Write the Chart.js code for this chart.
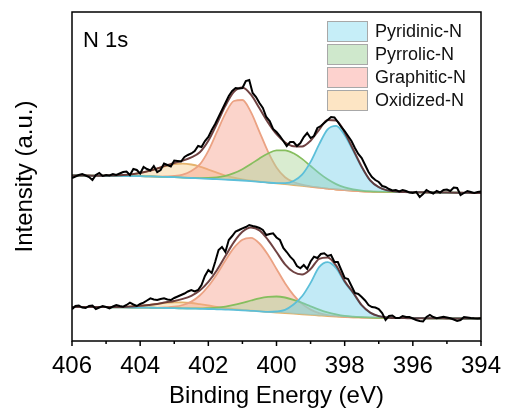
<!DOCTYPE html>
<html>
<head>
<meta charset="utf-8">
<script src="https://cdn.jsdelivr.net/npm/chart.js@4.4.1/dist/chart.umd.min.js"></script>
<style>
  html, body { margin: 0; padding: 0; background: #fff; }
</style>
</head>
<body>
<canvas id="grafico" width="507" height="414"></canvas>
<script>
// energía de enlace (eV) de la malla del ajuste, paso 0.25
const fitBE = [406,405.75,405.5,405.25,405,404.75,404.5,404.25,404,403.75,403.5,403.25,403,402.75,402.5,402.25,402,
  401.75,401.5,401.25,401,400.75,400.5,400.25,400,399.75,399.5,399.25,399,398.75,398.5,398.25,398,
  397.75,397.5,397.25,397,396.75,396.5,396.25,396,395.75,395.5,395.25,395,394.75,394.5,394.25,394];

// fondo Shirley (u.a.)
const fondoSup = [165.5,165.5,165.4,165.3,165.2,165.1,165.0,164.9,164.8,164.6,164.4,164.1,163.8,163.4,163.0,162.6,162.2,
  161.8,161.4,161.0,160.5,159.9,159.2,158.4,157.6,156.8,156.0,155.1,154.2,153.3,152.4,151.5,150.8,
  150.2,149.7,149.4,149.2,149.1,149.0,148.9,148.8,148.7,148.6,148.5,148.4,148.3,148.2,148.1,148.0];
const fondoInf = [34.0,34.0,33.9,33.9,33.8,33.7,33.6,33.5,33.4,33.3,33.2,33.0,32.8,32.6,32.4,32.2,32.0,
  31.7,31.4,31.1,30.7,30.2,29.7,29.1,28.5,27.9,27.3,26.7,26.1,25.5,24.9,24.4,24.0,
  23.7,23.5,23.3,23.2,23.1,23.0,22.9,22.8,22.8,22.7,22.7,22.6,22.6,22.5,22.5,22.4];

// componentes (altura sobre el fondo) - espectro superior
const piridinicoSup = [0,0,0,0,0,0,0,0,0,0,0,0,0,0,0,0,0,0,0,0,0,0,0,0,0.3,1.1,4.0,11.2,24.9,43.3,59.3,63.7,55,
  40,24,11,4.5,1.5,0.5,0,0,0,0,0,0,0,0,0,0];
const pirrolicoSup = [0,0,0,0,0,0,0,0,0,0,0,0,0,0,0.1,0.3,0.8,1.8,3.7,6.8,11.3,17.0,23.4,29.1,33.0,33.9,31.7,27.0,20.8,14.6,9.3,5.4,2.8,
  1.3,0.6,0.2,0.1,0,0,0,0,0,0,0,0,0,0,0,0];
const grafiticoSup = [0,0,0,0,0,0,0,0,0,0,0,0.5,1.2,3,7,14,28,47,66,79,80.5,69,50,31,16,7,3,1.2,0.4,0,0,0,0,
  0,0,0,0,0,0,0,0,0,0,0,0,0,0,0,0];
const oxidadoSup = [0,0,0,0,0.2,0.4,0.9,1.8,3.3,5.4,8.1,10.8,13.0,14.0,13.5,11.8,9.2,6.5,4.1,2.3,1.2,0.5,0.2,0.1,0,0,0,0,0,0,0,0,0,
  0,0,0,0,0,0,0,0,0,0,0,0,0,0,0,0];

// componentes - espectro inferior
const piridinicoInf = [0,0,0,0,0,0,0,0,0,0,0,0,0,0,0,0,0,0,0,0,0,0,0,0,1.0,3.3,9.2,18,32,48.4,54,48.4,34.7,
  24,12,5,1.7,0.5,0,0,0,0,0,0,0,0,0,0,0];
const pirrolicoInf = [0,0,0,0,0,0,0,0,0,0,0,0,0,0.1,0.2,0.4,0.9,1.7,3.0,5.0,7.5,10.3,13.0,15.0,16.0,15.6,13.9,11.4,8.6,5.9,3.7,2.2,1.1,
  0.6,0.3,0.1,0,0,0,0,0,0,0,0,0,0,0,0,0];
const grafiticoInf = [0,0,0,0,0,0,0,0,0,0,0,0.6,1.5,3.4,7.0,13.3,22.7,35.1,49.1,62.0,70.6,72.9,67.8,57.1,43.5,29.9,18.6,10.4,5.3,2.4,1.0,0.4,0.1,
  0,0,0,0,0,0,0,0,0,0,0,0,0,0,0,0];
const oxidadoInf = [0,0,0,0,0.1,0.3,0.5,1.0,1.8,2.8,3.9,5.1,5.8,6.0,5.6,4.6,3.5,2.3,1.4,0.8,0.4,0.2,0.1,0,0,0,0,0,0,0,0,0,0,
  0,0,0,0,0,0,0,0,0,0,0,0,0,0,0,0];

// datos experimentales, paso 0.1 eV
const rawBE = [406.0,405.9,405.8,405.7,405.6,405.5,405.4,405.3,405.2,405.1,
  405.0,404.9,404.8,404.7,404.6,404.5,404.4,404.3,404.2,404.1,
  404.0,403.9,403.8,403.7,403.6,403.5,403.4,403.3,403.2,403.1,
  403.0,402.9,402.8,402.7,402.6,402.5,402.4,402.3,402.2,402.1,
  402.0,401.9,401.8,401.7,401.6,401.5,401.4,401.3,401.2,401.1,
  401.0,400.9,400.8,400.7,400.6,400.5,400.4,400.3,400.2,400.1,
  400.0,399.9,399.8,399.7,399.6,399.5,399.4,399.3,399.2,399.1,
  399.0,398.9,398.8,398.7,398.6,398.5,398.4,398.3,398.2,398.1,
  398.0,397.9,397.8,397.7,397.6,397.5,397.4,397.3,397.2,397.1,
  397.0,396.9,396.8,396.7,396.6,396.5,396.4,396.3,396.2,396.1,
  396.0,395.9,395.8,395.7,395.6,395.5,395.4,395.3,395.2,395.1,
  395.0,394.9,394.8,394.7,394.6,394.5,394.4,394.3,394.2,394.1,
  394.0];
const expSup = [163,164.5,166,167,165.5,164,161,166,168,165,
  166,165.5,167,166,167.5,169,169.5,166,172,171,
  167.5,174,172,170.5,175,169,171,177.5,176,174.5,
  180.5,180,179.5,184,186,187.5,190,195,194,200,
  204,211,217,224,231,238,245,250,253,252.5,
  253,260,261,248,244,238,233,224,220,212,
  209,205,200,195,199,199,195,198,204,208,
  203,205,213,215,218,221,224,223.5,219,214,
  210,205,200,193,187,183,176,169,164,161,
  159,155,154,152,150.5,151,149.5,151,150,148.5,
  148,149,144,147,151,149,147.5,150,148.5,151,
  151.5,150,153.5,153,146,148,150,149,148,149,
  149.5];
const expInf = [31.7,35,35.5,33.5,33,35,35.5,32,33.5,35,
  34,32.7,34.5,36,35,34.3,36,38.3,36.5,35,
  37,38.3,40.5,42.7,41.5,41,42,42.7,41.5,41,
  43,44.5,46,47.5,49.5,51,49.5,51,56,65,
  71,68,79,91,94,89,101,105,109.5,111,
  112.7,114,116,115,114.3,113,111,106,107,107.7,
  103.5,101,93,89,84.3,81,75,72.7,76,72,
  79.5,84.3,83,87,87.7,85,86,79,79,71,
  63,62,55,48,47,44,40.5,36,34,33.5,
  32,28,21,25,25.5,23,23,25,24,24,
  22.5,21,20,19.5,24,26,24,22.7,23.5,24.3,
  23.5,22.7,21.5,20,21,24,23.5,23,22.7,22.5,
  22.7];

const etiquetas = ['Pyridinic-N', 'Pyrrolic-N', 'Graphitic-N', 'Oxidized-N'];
const colorLinea = ['#5cbfd9', '#86be5e', '#eba283', '#e5b36c'];
const colorRelleno = ['rgba(120,208,236,0.45)', 'rgba(170,212,150,0.45)', 'rgba(246,160,140,0.45)', 'rgba(246,204,140,0.45)'];
const colorLeyenda = ['#c6eef8', '#cfe8cc', '#fdd2ce', '#fde5c4'];

const puntos = (xs, ys) => xs.map((x, i) => ({ x, y: ys[i] }));
const sobreFondo = (fondo, h) => fitBE.map((x, i) => ({ x, y: fondo[i] + h[i] }));
const envolvente = (fondo, comps) => fitBE.map((x, i) => ({ x, y: fondo[i] + comps.reduce((s, c) => s + c[i], 0) }));

const compsSup = [piridinicoSup, pirrolicoSup, grafiticoSup, oxidadoSup];
const compsInf = [piridinicoInf, pirrolicoInf, grafiticoInf, oxidadoInf];

const datasets = [
  { data: puntos(rawBE, expSup), borderColor: '#000', borderWidth: 2, tension: 0 },
  { data: envolvente(fondoSup, compsSup), borderColor: 'rgba(95,45,45,0.9)', borderWidth: 2, cubicInterpolationMode: 'monotone' },
  { data: puntos(rawBE, expInf), borderColor: '#000', borderWidth: 2, tension: 0 },
  { data: envolvente(fondoInf, compsInf), borderColor: 'rgba(95,45,45,0.9)', borderWidth: 2, cubicInterpolationMode: 'monotone' }
];
// componentes: índice 12 = fondo superior, 13 = fondo inferior
compsSup.forEach((c, k) => {
  datasets.push({ data: sobreFondo(fondoSup, c), borderColor: colorLinea[k], backgroundColor: colorRelleno[k],
    borderWidth: 1.8, fill: 12, cubicInterpolationMode: 'monotone' });
  datasets.push({ data: sobreFondo(fondoInf, compsInf[k]), borderColor: colorLinea[k], backgroundColor: colorRelleno[k],
    borderWidth: 1.8, fill: 13, cubicInterpolationMode: 'monotone' });
});
datasets.push({ data: puntos(fitBE, fondoSup), borderColor: 'rgba(0,0,0,0)', borderWidth: 0, cubicInterpolationMode: 'monotone' });
datasets.push({ data: puntos(fitBE, fondoInf), borderColor: 'rgba(0,0,0,0)', borderWidth: 0, cubicInterpolationMode: 'monotone' });

const fuente = '"Liberation Sans", Arial, sans-serif';

// marco, marcas menores, rótulo y leyenda
const decoracion = {
  id: 'decoracion',
  afterDraw(chart) {
    const { ctx, chartArea: a, scales: { x } } = chart;
    ctx.save();
    ctx.strokeStyle = '#000';
    ctx.lineWidth = 1.5;
    ctx.strokeRect(a.left, a.top, a.right - a.left, a.bottom - a.top);
    for (let v = x.min; v <= x.max; v++) {
      const px = x.getPixelForValue(v);
      ctx.beginPath();
      ctx.moveTo(px, a.bottom);
      ctx.lineTo(px, a.bottom + (v % 2 === 0 ? 5 : 3));
      ctx.stroke();
    }
    ctx.fillStyle = '#000';
    ctx.font = '22px ' + fuente;
    ctx.textBaseline = 'alphabetic';
    ctx.fillText('N 1s', 83, 47);
    ctx.font = '18px ' + fuente;
    ctx.textBaseline = 'middle';
    etiquetas.forEach((t, i) => {
      const y = 21 + i * 23;
      ctx.fillStyle = colorLeyenda[i];
      ctx.fillRect(327, y, 40, 20);
      ctx.strokeStyle = '#a8a8a8';
      ctx.lineWidth = 1;
      ctx.strokeRect(327.5, y + 0.5, 40, 20);
      ctx.fillStyle = '#111';
      ctx.fillText(t, 375, y + 11);
    });
    ctx.restore();
  }
};

new Chart(document.getElementById('grafico').getContext('2d'), {
  type: 'line',
  data: { datasets },
  options: {
    responsive: false,
    animation: false,
    layout: { padding: { top: 12, right: 26, left: 0, bottom: 0 } },
    elements: { point: { radius: 0 }, line: { fill: false } },
    plugins: { legend: { display: false }, tooltip: { enabled: false } },
    scales: {
      x: {
        type: 'linear', reverse: true, min: 394, max: 406,
        grid: { display: false }, border: { display: false },
        ticks: { stepSize: 2, color: '#000', font: { family: fuente, size: 24 }, padding: 3, maxRotation: 0 },
        title: { display: true, text: 'Binding Energy (eV)', color: '#000', font: { family: fuente, size: 24 }, padding: { top: 0, bottom: 3 } },
        afterFit: s => { s.height = 73; }
      },
      y: {
        min: 0, max: 329,
        grid: { display: false }, border: { display: false },
        ticks: { display: false },
        title: { display: true, text: 'Intensity (a.u.)', color: '#000', font: { family: fuente, size: 24 }, padding: { top: 11, bottom: 0 } },
        afterFit: s => { s.width = 72; }
      }
    }
  },
  plugins: [decoracion]
});
</script>
</body>
</html>
